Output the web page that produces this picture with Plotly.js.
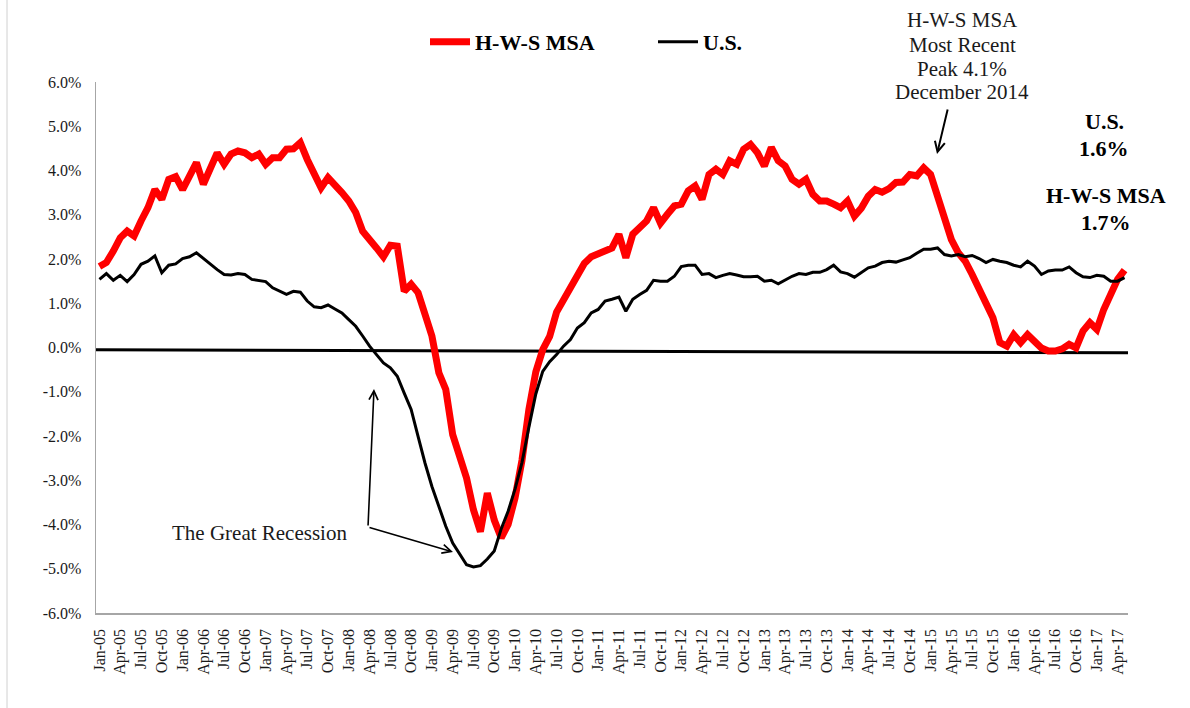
<!DOCTYPE html>
<html>
<head>
<meta charset="utf-8">
<script src="https://cdn.plot.ly/plotly-3.0.1.min.js"></script>
<style>
html,body{margin:0;padding:0;background:#ffffff;}
#chart{width:1190px;height:708px;}
</style>
</head>
<body>
<div id="chart"></div>
<script>
// ---- data ----
const monthNames = ['Jan','Feb','Mar','Apr','May','Jun','Jul','Aug','Sep','Oct','Nov','Dec'];
const yearLabels = ['05','06','07','08','09','10','11','12','13','14','15','16','17'];

const hwsMsa = [
  1.83, 1.92, 2.18, 2.48, 2.63, 2.52, 2.86, 3.16, 3.57, 3.35, 3.80, 3.86,
  3.57, 3.91, 4.18, 3.69, 4.06, 4.40, 4.14, 4.37, 4.44, 4.40, 4.29, 4.37,
  4.14, 4.29, 4.29, 4.48, 4.49, 4.63, 4.25, 3.91, 3.61, 3.84, 3.69, 3.50,
  3.31, 3.05, 2.63, 2.41, 2.25, 2.05, 2.31, 2.29, 1.27, 1.43, 1.24, 0.75,
  0.26, -0.57, -0.95, -1.97, -2.46, -2.95, -3.67, -4.16, -3.29, -3.90, -4.30, -4.00,
  -3.40, -2.55, -1.40, -0.55, -0.05, 0.25, 0.80, 1.07, 1.35, 1.68, 1.90, 2.05,
  2.12, 2.22, 2.25, 2.56, 2.03, 2.56, 2.71, 2.86, 3.16, 2.81, 3.01, 3.20,
  3.24, 3.54, 3.65, 3.35, 3.91, 4.03, 3.91, 4.22, 4.14, 4.48, 4.59, 4.40,
  4.10, 4.52, 4.22, 4.10, 3.80, 3.69, 3.80, 3.46, 3.31, 3.31, 3.24, 3.16,
  3.31, 2.97, 3.15, 3.42, 3.57, 3.51, 3.59, 3.73, 3.74, 3.91, 3.88, 4.06,
  3.91, 3.42, 2.86, 2.44, 2.14, 1.95, 1.65, 1.31, 1.05, 0.67, 0.11, 0.03,
  0.29, 0.11, 0.29, 0.14, -0.01, -0.08, -0.08, -0.03, 0.07, -0.01, 0.37, 0.56,
  0.41, 0.86, 1.24, 1.54, 1.75
];

const usRate = [
  1.54, 1.67, 1.52, 1.63, 1.49, 1.65, 1.88, 1.95, 2.07, 1.69, 1.86, 1.89,
  2.01, 2.05, 2.14, 2.01, 1.89, 1.76, 1.65, 1.64, 1.67, 1.65, 1.54, 1.52,
  1.49, 1.35, 1.27, 1.20, 1.27, 1.25, 1.05, 0.92, 0.90, 0.96, 0.87, 0.78,
  0.63, 0.48, 0.26, 0.03, -0.16, -0.35, -0.46, -0.65, -1.03, -1.40, -2.01, -2.61,
  -3.14, -3.59, -4.04, -4.42, -4.68, -4.91, -4.96, -4.93, -4.78, -4.60, -4.10, -3.70,
  -3.20, -2.60, -1.80, -1.05, -0.54, -0.32, -0.16, 0.03, 0.18, 0.44, 0.56, 0.78,
  0.86, 1.05, 1.09, 1.14, 0.82, 1.09, 1.20, 1.29, 1.52, 1.50, 1.50, 1.61,
  1.83, 1.86, 1.86, 1.65, 1.67, 1.58, 1.63, 1.67, 1.64, 1.60, 1.60, 1.61,
  1.50, 1.52, 1.44, 1.52, 1.61, 1.67, 1.65, 1.70, 1.70, 1.76, 1.86, 1.71,
  1.67, 1.59, 1.70, 1.80, 1.84, 1.92, 1.95, 1.93, 1.98, 2.03, 2.13, 2.22,
  2.22, 2.25, 2.10, 2.07, 2.10, 2.05, 2.08, 2.01, 1.92, 1.99, 1.95, 1.92,
  1.86, 1.82, 1.95, 1.84, 1.65, 1.73, 1.75, 1.75, 1.82, 1.69, 1.60, 1.58,
  1.63, 1.61, 1.50, 1.50, 1.58
];

const yTickValues = [-6, -5, -4, -3, -2, -1, 0, 1, 2, 3, 4, 5, 6];
const yTickLabels = ['-6.0%','-5.0%','-4.0%','-3.0%','-2.0%','-1.0%','0.0%','1.0%','2.0%','3.0%','4.0%','5.0%','6.0%'];

const seriesNames = ['H-W-S MSA', 'U.S.'];
const peakNoteLines = ['H-W-S MSA', 'Most Recent', 'Peak 4.1%', 'December 2014'];
const usNoteLines = ['U.S.', '1.6%'];
const hwsNoteLines = ['H-W-S MSA', '1.7%'];
const recessionLabel = 'The Great Recession';

// category labels (Jan-05 ... May-17)
const categories = [];
yearLabels.forEach(y => monthNames.forEach(m => categories.push(m + '-' + y)));
categories.length = hwsMsa.length;

// ---- layout helpers (pixel -> paper) ----
const M = {l: 96, r: 62, t: 82, b: 95};
const W = 1190, H = 708;
const PW = W - M.l - M.r, PH = H - M.t - M.b;
const px = v => (v - M.l) / PW;
const py = v => (H - M.b - v) / PH;

const serif = "'Liberation Serif', 'Times New Roman', 'DejaVu Serif', serif";
const txtColor = '#1a1a1a';

const traces = [
  {x: categories, y: hwsMsa, type: 'scatter', mode: 'lines', name: seriesNames[0],
   line: {color: '#ff0000', width: 7}},
  {x: categories, y: usRate, type: 'scatter', mode: 'lines', name: seriesNames[1],
   line: {color: '#000000', width: 3}}
];

const annotations = [];
const peakY = [20, 45, 69, 92];
peakNoteLines.forEach((t, i) => annotations.push({
  xref: 'paper', yref: 'paper', x: px(962), y: py(peakY[i]), xanchor: 'center', yanchor: 'middle',
  text: t, showarrow: false, font: {family: serif, size: 21, color: txtColor}
}));
const usY = [121, 148];
usNoteLines.forEach((t, i) => annotations.push({
  xref: 'paper', yref: 'paper', x: px(1104), y: py(usY[i]), xanchor: 'center', yanchor: 'middle',
  text: t, showarrow: false, font: {family: serif, size: 22, color: '#000', weight: 'bold'}
}));
const hwsY = [195, 222];
hwsNoteLines.forEach((t, i) => annotations.push({
  xref: 'paper', yref: 'paper', x: px(1106), y: py(hwsY[i]), xanchor: 'center', yanchor: 'middle',
  text: t, showarrow: false, font: {family: serif, size: 22, color: '#000', weight: 'bold'}
}));
annotations.push({
  xref: 'paper', yref: 'paper', x: px(259), y: py(533), xanchor: 'center', yanchor: 'middle',
  text: recessionLabel, showarrow: false, font: {family: serif, size: 21, color: txtColor}
});
// arrows
annotations.push({
  xref: 'paper', yref: 'paper', x: px(937), y: py(154), text: '', showarrow: true,
  ax: 11, ay: -46, arrowhead: 5, arrowsize: 1, arrowwidth: 2, arrowcolor: '#000'
});
annotations.push({
  xref: 'paper', yref: 'paper', x: px(374), y: py(389), text: '', showarrow: true,
  ax: -6, ay: 138, arrowhead: 5, arrowsize: 1.1, arrowwidth: 1.6, arrowcolor: '#000'
});
annotations.push({
  xref: 'paper', yref: 'paper', x: px(453), y: py(552), text: '', showarrow: true,
  ax: -85, ay: -25, arrowhead: 5, arrowsize: 1.1, arrowwidth: 1.6, arrowcolor: '#000'
});

const layout = {
  width: W, height: H,
  margin: M,
  paper_bgcolor: '#ffffff', plot_bgcolor: '#ffffff',
  font: {family: serif, color: txtColor},
  showlegend: true,
  legend: {
    orientation: 'h', x: px(425), xanchor: 'left', y: py(42), yanchor: 'middle',
    font: {family: serif, size: 22, color: '#000', weight: 'bold'},
    bgcolor: 'rgba(0,0,0,0)', entrywidth: 173, entrywidthmode: 'pixels', itemwidth: 40
  },
  xaxis: {
    type: 'category', range: [-0.5, hwsMsa.length - 0.5],
    tickmode: 'linear', tick0: 0, dtick: 3, tickangle: -90,
    showline: true, linecolor: '#a6a6a6', linewidth: 1.5, mirror: false,
    ticks: '', showgrid: false, zeroline: false,
    tickfont: {family: serif, size: 16, color: txtColor}, ticklabelstandoff: 8
  },
  yaxis: {
    range: [-6, 6], tickmode: 'array', tickvals: yTickValues, ticktext: yTickLabels,
    showline: true, linecolor: '#a6a6a6', linewidth: 1.5,
    ticks: '', showgrid: false, zeroline: false,
    tickfont: {family: serif, size: 16, color: txtColor}, ticklabelstandoff: 10
  },
  shapes: [
    {type: 'line', xref: 'x', yref: 'y', x0: -0.5, x1: hwsMsa.length - 0.5, y0: -0.05, y1: -0.12,
     line: {color: '#000', width: 3}, layer: 'below'},
    {type: 'line', xref: 'paper', yref: 'paper', x0: px(7), x1: px(7), y0: py(708), y1: py(0),
     line: {color: '#d0d0d0', width: 1}}
  ],
  annotations: annotations
};

Plotly.newPlot('chart', traces, layout, {displayModeBar: false, staticPlot: true});
</script>
</body>
</html>
